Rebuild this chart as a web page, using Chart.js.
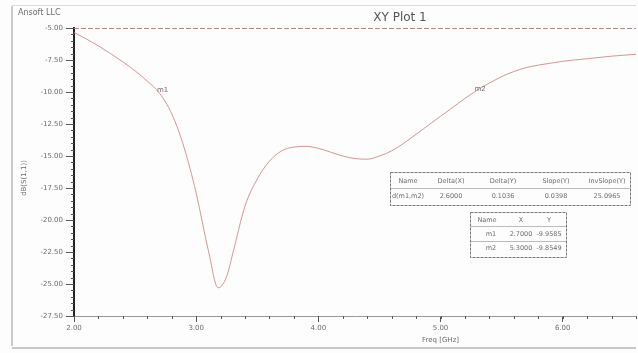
<!DOCTYPE html>
<html>
<head>
<meta charset="utf-8">
<script src="https://cdn.jsdelivr.net/npm/chart.js@4/dist/chart.umd.min.js"></script>
<style>
  html, body { margin: 0; padding: 0; background: #fdfdfd; }
  #wrap { width: 638px; height: 353px; position: relative; }
</style>
</head>
<body>
<div id="wrap"><canvas id="xyPlot" width="638" height="353"></canvas></div>
<script>
// S11 sweep
var freqGHz = [2.00, 2.10, 2.20, 2.30, 2.40, 2.50, 2.60, 2.70, 2.80, 2.90,
               3.00, 3.10, 3.18, 3.25, 3.30, 3.40, 3.50, 3.60, 3.70, 3.80,
               3.90, 4.00, 4.10, 4.20, 4.30, 4.40, 4.50, 4.60, 4.70, 4.80,
               4.90, 5.00, 5.10, 5.20, 5.30, 5.40, 5.50, 5.60, 5.70, 5.80,
               5.90, 6.00, 6.20, 6.40, 6.60];
var s11dB = [-5.35, -5.85, -6.40, -7.00, -7.65, -8.35, -9.15, -10.10, -11.70, -14.30,
             -17.90, -22.40, -25.30, -24.40, -22.60, -18.90, -16.80, -15.40, -14.60, -14.30,
             -14.25, -14.40, -14.70, -15.00, -15.20, -15.25, -15.00, -14.60, -14.00, -13.30,
             -12.60, -11.90, -11.20, -10.50, -9.86, -9.30, -8.80, -8.40, -8.10, -7.90,
             -7.75, -7.60, -7.40, -7.20, -7.05];

var yTicks = [-5.00, -7.50, -10.00, -12.50, -15.00, -17.50, -20.00, -22.50, -25.00, -27.50];
var xTicks = [2.00, 3.00, 4.00, 5.00, 6.00];

// marker table
var markerNames = ['m1', 'm2'];
var markerX = [2.7000, 5.3000];
var markerY = [-9.9585, -9.8549];

// delta table
var deltaHeader = ['Name', 'Delta(X)', 'Delta(Y)', 'Slope(Y)', 'InvSlope(Y)'];
var deltaRow = ['d(m1,m2)', '2.6000', '0.1036', '0.0398', '25.0965'];

var textColor = '#6d6d6d';

var decorPlugin = {
    id: 'decor',
    afterDraw: function(chart) {
        var ctx = chart.ctx;
        var xs = chart.scales.x;
        var ys = chart.scales.y;
        var area = chart.chartArea;
        ctx.save();

        // window frame
        ctx.strokeStyle = '#b8b8b8';
        ctx.lineWidth = 1.5;
        ctx.beginPath();
        ctx.moveTo(12, 6);
        ctx.lineTo(12, 346);
        ctx.moveTo(12, 348);
        ctx.lineTo(636, 348);
        ctx.stroke();
        ctx.strokeStyle = '#dcdcdc';
        ctx.lineWidth = 1;
        ctx.beginPath();
        ctx.moveTo(12, 5.5);
        ctx.lineTo(636, 5.5);
        ctx.stroke();

        // top border line, dashed
        ctx.strokeStyle = '#a88';
        ctx.setLineDash([5, 2]);
        ctx.beginPath();
        ctx.moveTo(area.left, area.top + 0.5);
        ctx.lineTo(area.right, area.top + 0.5);
        ctx.stroke();
        ctx.setLineDash([]);

        // minor ticks
        ctx.strokeStyle = '#555';
        ctx.lineWidth = 1;
        ctx.beginPath();
        for (var v = -5; v >= -27.5; v -= 0.5) {
            var py = Math.round(ys.getPixelForValue(v)) + 0.5;
            ctx.moveTo(area.left - 3, py);
            ctx.lineTo(area.left, py);
        }
        for (var f = 2.0; f <= xs.max + 0.001; f += 0.2) {
            var px = Math.round(xs.getPixelForValue(f)) + 0.5;
            ctx.moveTo(px, area.bottom);
            ctx.lineTo(px, area.bottom + 3);
        }
        ctx.stroke();

        // texts
        ctx.fillStyle = textColor;
        ctx.font = '8px "DejaVu Sans"';
        ctx.textAlign = 'left';
        ctx.textBaseline = 'middle';
        ctx.fillText('Ansoft LLC', 18, 13);

        ctx.font = '12px "DejaVu Sans"';
        ctx.fillStyle = '#555';
        ctx.textAlign = 'center';
        ctx.fillText('XY Plot 1', 400, 18);

        ctx.fillStyle = textColor;
        ctx.font = '7px "DejaVu Sans"';
        ctx.fillText('Freq [GHz]', xs.getPixelForValue(5.0), 340);

        ctx.save();
        ctx.translate(24, 178);
        ctx.rotate(-Math.PI / 2);
        ctx.fillText('dB(S(1,1))', 0, 0);
        ctx.restore();

        // marker labels on the curve
        for (var i = 0; i < markerNames.length; i++) {
            ctx.fillText(markerNames[i], xs.getPixelForValue(markerX[i]) + 3, ys.getPixelForValue(markerY[i]) - 1);
        }

        // delta table
        ctx.strokeStyle = '#777';
        ctx.setLineDash([3, 1]);
        ctx.strokeRect(390.5, 172.5, 240, 33);
        ctx.strokeRect(470.5, 212.5, 96, 45);
        ctx.setLineDash([]);
        var dCols = [408, 451, 503, 556, 607];
        ctx.font = '6.5px "DejaVu Sans"';
        for (var c = 0; c < deltaHeader.length; c++) {
            ctx.fillText(deltaHeader[c], dCols[c], 181);
            ctx.fillText(deltaRow[c], dCols[c], 196);
        }
        ctx.strokeStyle = '#bbb';
        ctx.beginPath();
        ctx.moveTo(391, 188.5);
        ctx.lineTo(630, 188.5);
        ctx.stroke();

        // marker table
        var mCols = [487, 521, 549];
        ctx.fillText('Name', mCols[0], 220);
        ctx.fillText('X', mCols[1], 220);
        ctx.fillText('Y', mCols[2], 220);
        for (var k = 0; k < markerNames.length; k++) {
            var ry = 234 + k * 14;
            ctx.fillText(markerNames[k], mCols[0] + 4, ry);
            ctx.fillText(markerX[k].toFixed(4), mCols[1], ry);
            ctx.fillText(markerY[k].toFixed(4), mCols[2], ry);
        }
        ctx.strokeStyle = '#bbb';
        ctx.beginPath();
        ctx.moveTo(471, 226.5);
        ctx.lineTo(566, 226.5);
        ctx.moveTo(471, 241.5);
        ctx.lineTo(566, 241.5);
        ctx.stroke();

        ctx.restore();
    }
};

var points = freqGHz.map(function(f, i) { return { x: f, y: s11dB[i] }; });

new Chart(document.getElementById('xyPlot'), {
    type: 'line',
    data: {
        datasets: [{
            label: 'dB(S(1,1))',
            data: points,
            borderColor: 'rgba(205,130,130,0.85)',
            borderWidth: 1,
            pointRadius: 0,
            fill: false,
            cubicInterpolationMode: 'monotone'
        }]
    },
    options: {
        responsive: false,
        animation: false,
        layout: { padding: { top: 28, right: 2, left: 0, bottom: 0 } },
        plugins: {
            legend: { display: false },
            tooltip: { enabled: false }
        },
        scales: {
            x: {
                type: 'linear',
                min: 2.0,
                max: 6.6,
                afterBuildTicks: function(scale) {
                    scale.ticks = xTicks.map(function(v) { return { value: v }; });
                },
                afterFit: function(scale) { scale.height = 37; },
                ticks: {
                    color: textColor,
                    font: { size: 7, family: 'DejaVu Sans' },
                    padding: 2,
                    maxRotation: 0,
                    callback: function(v) { return Number(v).toFixed(2); }
                },
                grid: { drawOnChartArea: false, tickLength: 6, color: '#555' },
                border: { color: '#999', dash: [4, 2], width: 1 }
            },
            y: {
                type: 'linear',
                min: -27.5,
                max: -5.0,
                afterBuildTicks: function(scale) {
                    scale.ticks = yTicks.map(function(v) { return { value: v }; });
                },
                afterFit: function(scale) { scale.width = 74; },
                ticks: {
                    color: textColor,
                    font: { size: 7, family: 'DejaVu Sans' },
                    padding: 3,
                    callback: function(v) { return Number(v).toFixed(2); }
                },
                grid: { drawOnChartArea: false, tickLength: 8, color: '#555' },
                border: { color: '#222', width: 2 }
            }
        }
    },
    plugins: [decorPlugin]
});
</script>
</body>
</html>
